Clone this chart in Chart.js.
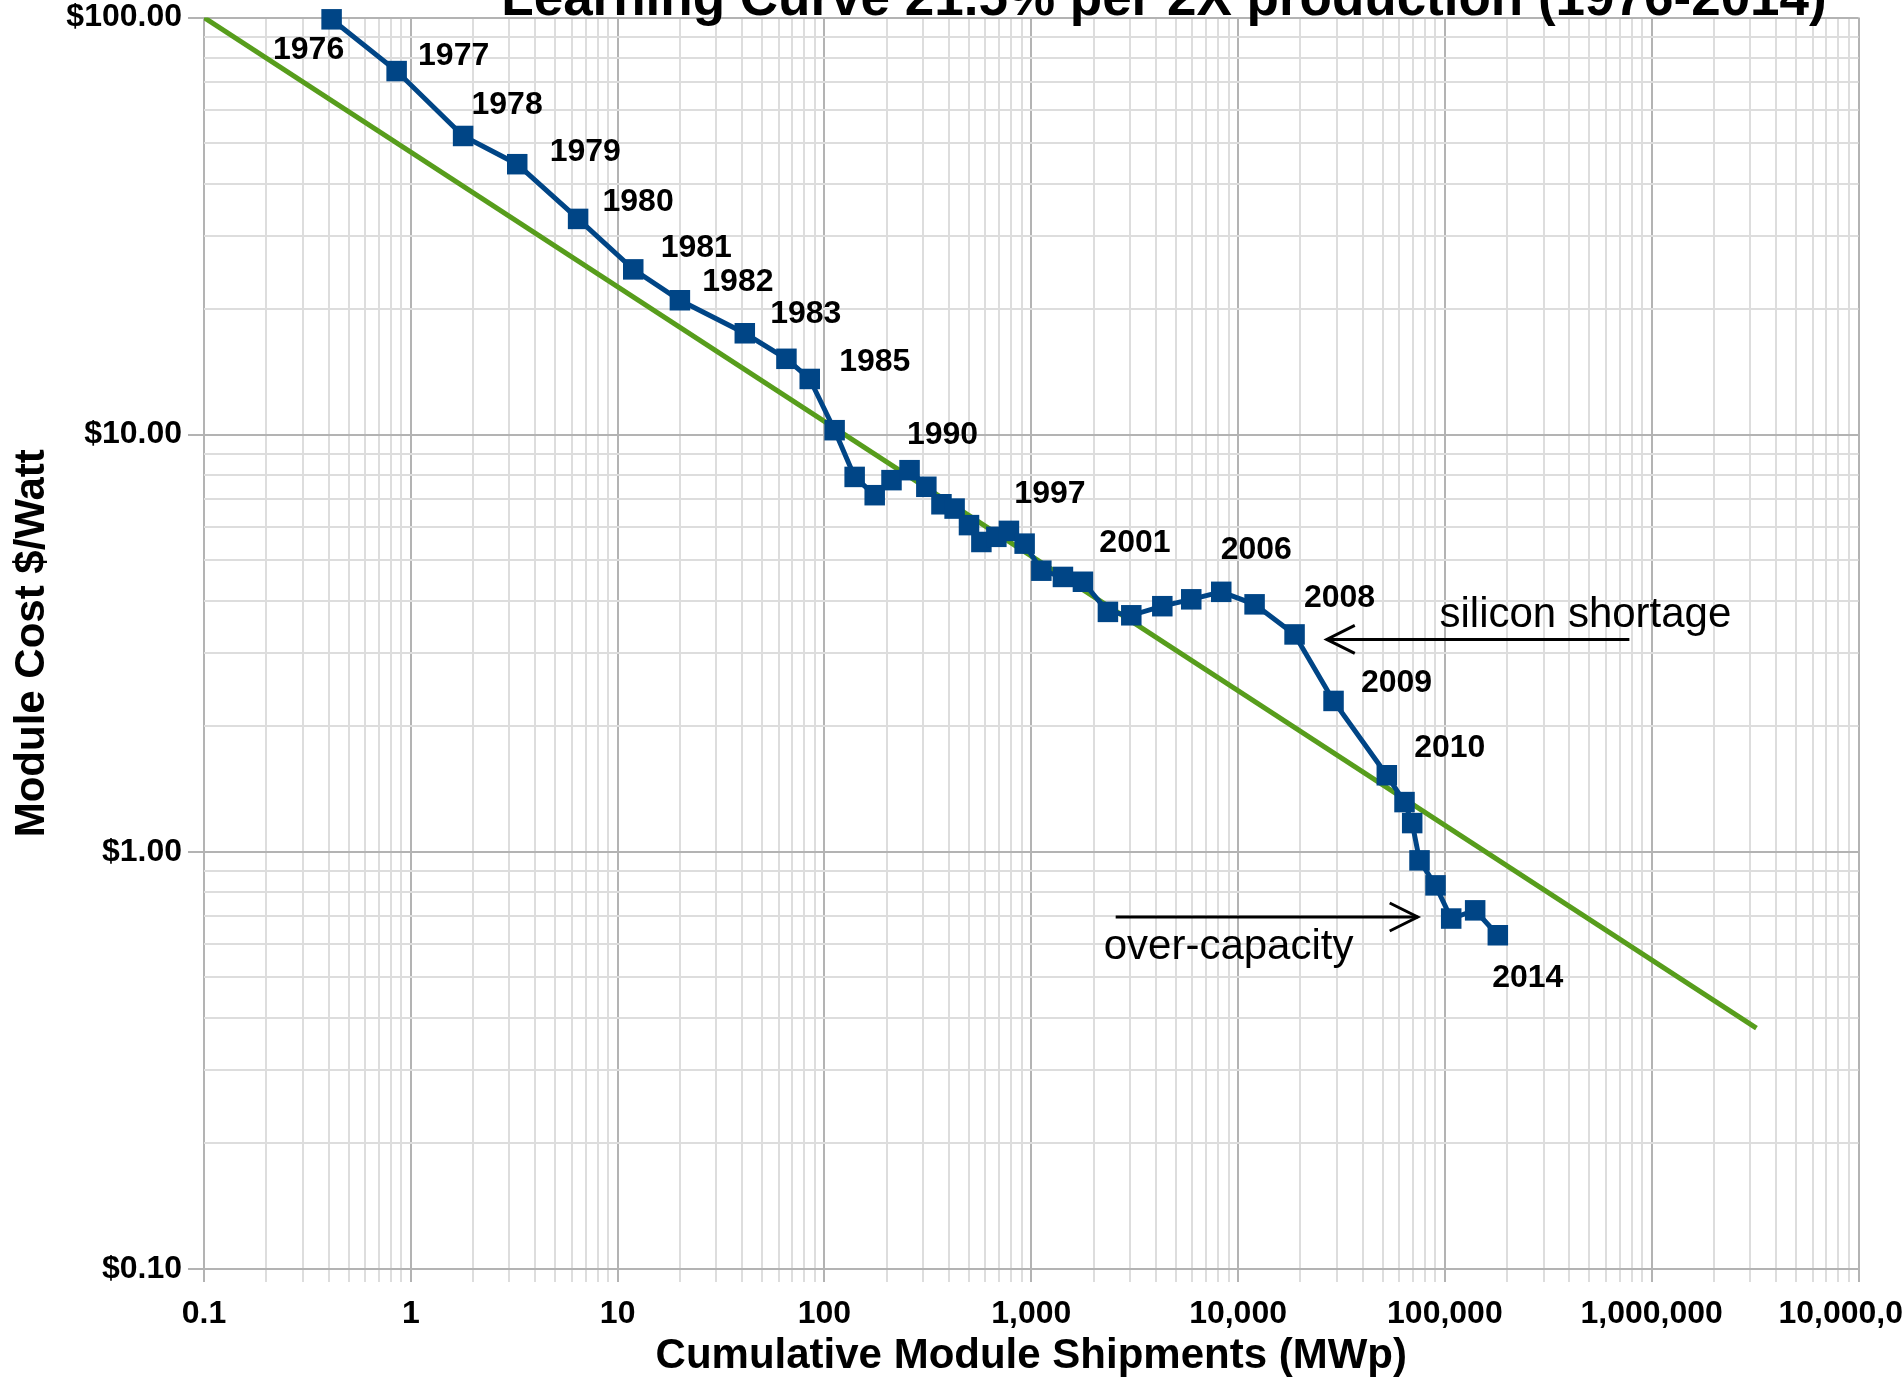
<!DOCTYPE html>
<html>
<head>
<meta charset="utf-8">
<title>Learning Curve 21.5% per 2X production (1976-2014)</title>
<script src="https://cdn.jsdelivr.net/npm/chart.js@4.4.1/dist/chart.umd.min.js"></script>
<style>
    html, body { margin: 0; padding: 0; background: #fff; overflow: hidden; }
    #wrap { width: 1902px; height: 1382px; }
</style>
</head>
<body>
<div id="wrap"><canvas id="myChart" width="1902" height="1382"></canvas></div>
<script>
// cumulative module shipments (MWp) and module cost ($/W)
const shipments = [0.414, 0.854, 1.79, 3.27, 6.44, 11.9, 20.0, 41.2, 65.5, 84.9,
    112, 140, 175, 211, 258, 311, 368, 426, 500, 574,
    678, 780, 929, 1119, 1423, 1778, 2348, 3046, 4302, 5939,
    8293, 12020, 18760, 28950, 52390, 63800, 69500, 75400, 90100, 107300,
    140100, 180300];
const moduleCost = [99.0, 74.4, 52.0, 44.5, 32.9, 24.9, 21.0, 17.5, 15.2, 13.6,
    10.25, 7.92, 7.16, 7.78, 8.22, 7.50, 6.81, 6.65, 6.07, 5.53,
    5.69, 5.88, 5.48, 4.72, 4.56, 4.44, 3.76, 3.69, 3.88, 4.03,
    4.20, 3.92, 3.32, 2.30, 1.526, 1.316, 1.172, 0.954, 0.831, 0.692,
    0.724, 0.631];
const yearLabels = ['1976', '1977', '1978', '1979', '1980', '1981', '1982', '1983', '', '1985',
    '', '', '', '', '1990', '', '', '', '', '',
    '', '1997', '', '', '', '2001', '', '', '', '',
    '2006', '', '2008', '2009', '2010', '', '', '', '', '',
    '', '2014'];

// learning curve fit (green line)
const trendShipments = [0.1, 3210000];
const trendCost = [100, 0.378];

const xTickLabels = ['0.1', '1', '10', '100', '1,000', '10,000', '100,000', '1,000,000', '10,000,000'];
const yTickLabels = ['$0.10', '$1.00', '$10.00', '$100.00'];

// where each year label sits relative to its marker (px)
const labelOffsets = {
    '1976': [-23, 31], '1977': [57, -15], '1978': [44, -31], '1979': [68, -12],
    '1980': [60, -17], '1981': [63, -21], '1982': [58, -18], '1983': [61, -19],
    '1985': [65, -17], '1990': [33, -35], '1997': [41, -37], '2001': [52, -39],
    '2006': [35, -42], '2008': [45, -36], '2009': [63, -18], '2010': [63, -27],
    '2014': [30, 43]
};

// arrows + notes, in data coordinates
const notes = [
    { text: 'silicon shortage', textX: 94200, textY: 3.455, tailX: 780000, tipX: 26850, arrowY: 3.23 },
    { text: 'over-capacity', textX: 2240, textY: 0.555, tailX: 2560, tipX: 73900, arrowY: 0.698 }
];

const FONT = '"Liberation Sans", Arial, Helvetica, sans-serif';
Chart.defaults.font.family = FONT;
Chart.defaults.color = '#000';

function isDecade(v) {
    const e = Math.log10(v);
    return Math.abs(e - Math.round(e)) < 1e-9;
}

function gridValues(fromExp, toExp) {
    const vals = [];
    for (let e = fromExp; e < toExp; e++) {
        for (let m = 1; m < 10; m++) {
            vals.push(parseFloat((m * Math.pow(10, e)).toPrecision(12)));
        }
    }
    vals.push(Math.pow(10, toExp));
    return vals;
}

const gridColor = (c) => isDecade(c.tick.value) ? '#b3b3b3' : '#dddddd';

const titlePlugin = {
    id: 'cutTitle',
    afterDraw(chart) {
        const ctx = chart.ctx;
        ctx.save();
        ctx.font = 'bold 53px ' + FONT;
        ctx.fillStyle = '#000';
        ctx.textAlign = 'center';
        ctx.textBaseline = 'alphabetic';
        ctx.fillText('Learning Curve 21.5% per 2X production (1976-2014)', 1164, 15);
        ctx.restore();
    }
};

const yearLabelPlugin = {
    id: 'yearLabels',
    afterDatasetsDraw(chart) {
        const { ctx, scales: { x, y } } = chart;
        ctx.save();
        ctx.font = 'bold 32px ' + FONT;
        ctx.fillStyle = '#000';
        ctx.textAlign = 'center';
        ctx.textBaseline = 'middle';
        yearLabels.forEach((t, i) => {
            if (!t) return;
            const off = labelOffsets[t] || [45, -25];
            ctx.fillText(t, x.getPixelForValue(shipments[i]) + off[0], y.getPixelForValue(moduleCost[i]) + off[1]);
        });
        ctx.restore();
    }
};

const notePlugin = {
    id: 'notes',
    afterDatasetsDraw(chart) {
        const { ctx, scales: { x, y } } = chart;
        ctx.save();
        ctx.strokeStyle = '#000';
        ctx.fillStyle = '#000';
        ctx.lineWidth = 3;
        ctx.font = '42px ' + FONT;
        ctx.textAlign = 'left';
        ctx.textBaseline = 'alphabetic';
        notes.forEach(n => {
            const x1 = x.getPixelForValue(n.tailX);
            const x2 = x.getPixelForValue(n.tipX);
            const yy = y.getPixelForValue(n.arrowY);
            const dir = Math.sign(x2 - x1);
            ctx.beginPath();
            ctx.moveTo(x1, yy);
            ctx.lineTo(x2, yy);
            ctx.stroke();
            ctx.beginPath();
            ctx.moveTo(x2 - dir * 28, yy - 14);
            ctx.lineTo(x2, yy);
            ctx.lineTo(x2 - dir * 28, yy + 14);
            ctx.stroke();
            ctx.fillText(n.text, x.getPixelForValue(n.textX), y.getPixelForValue(n.textY));
        });
        ctx.restore();
    }
};

const ctx = document.getElementById('myChart');

const myChart = new Chart(ctx, {
    type: 'line',
    data: {
        datasets: [{
            label: 'Module cost',
            data: shipments.map((v, i) => ({ x: v, y: moduleCost[i] })),
            borderColor: '#004586',
            backgroundColor: '#004586',
            borderWidth: 5,
            pointStyle: 'rect',
            pointRadius: 14.5,
            pointHoverRadius: 14.5,
            pointBorderWidth: 0,
            tension: 0,
            clip: false
        }, {
            label: 'Learning curve',
            data: trendShipments.map((v, i) => ({ x: v, y: trendCost[i] })),
            borderColor: '#579d1c',
            borderWidth: 5,
            pointRadius: 0,
            tension: 0
        }]
    },
    options: {
        responsive: false,
        animation: false,
        devicePixelRatio: 1,
        events: [],
        layout: {
            padding: { top: 17.5, right: 43.5, left: 0, bottom: 0 }
        },
        plugins: {
            legend: { display: false },
            tooltip: { enabled: false },
            title: { display: false }
        },
        scales: {
            x: {
                type: 'logarithmic',
                min: 0.1,
                max: 1e7,
                border: { display: false },
                grid: { color: gridColor, tickColor: gridColor, lineWidth: 2, tickLength: 13 },
                ticks: {
                    autoSkip: false,
                    maxRotation: 0,
                    minRotation: 0,
                    padding: 13,
                    font: { size: 32, weight: 'bold' },
                    callback: (v) => isDecade(v) ? xTickLabels[Math.round(Math.log10(v)) + 1] : ''
                },
                title: {
                    display: true,
                    text: 'Cumulative Module Shipments (MWp)',
                    font: { size: 42, weight: 'bold' },
                    padding: { top: 0, bottom: 0 }
                },
                afterBuildTicks: (s) => { s.ticks = gridValues(-1, 7).map(v => ({ value: v })); },
                afterFit: (s) => { s.height = 113; s.paddingLeft = 0; s.paddingRight = 0; }
            },
            y: {
                type: 'logarithmic',
                min: 0.1,
                max: 100,
                border: { display: false },
                grid: {
                    color: gridColor,
                    tickColor: (c) => isDecade(c.tick.value) ? '#b3b3b3' : 'rgba(0,0,0,0)',
                    lineWidth: 2,
                    tickLength: 16
                },
                ticks: {
                    autoSkip: false,
                    padding: 6,
                    font: { size: 32, weight: 'bold' },
                    callback: (v) => isDecade(v) ? yTickLabels[Math.round(Math.log10(v)) + 1] : ''
                },
                title: {
                    display: true,
                    text: 'Module Cost $/Watt',
                    font: { size: 42, weight: 'bold' },
                    padding: { top: 7, bottom: 0 }
                },
                afterBuildTicks: (s) => { s.ticks = gridValues(-1, 2).map(v => ({ value: v })); },
                afterFit: (s) => { s.width = 204; s.paddingTop = 0; s.paddingBottom = 0; }
            }
        }
    },
    plugins: [titlePlugin, yearLabelPlugin, notePlugin]
});
</script>
</body>
</html>
